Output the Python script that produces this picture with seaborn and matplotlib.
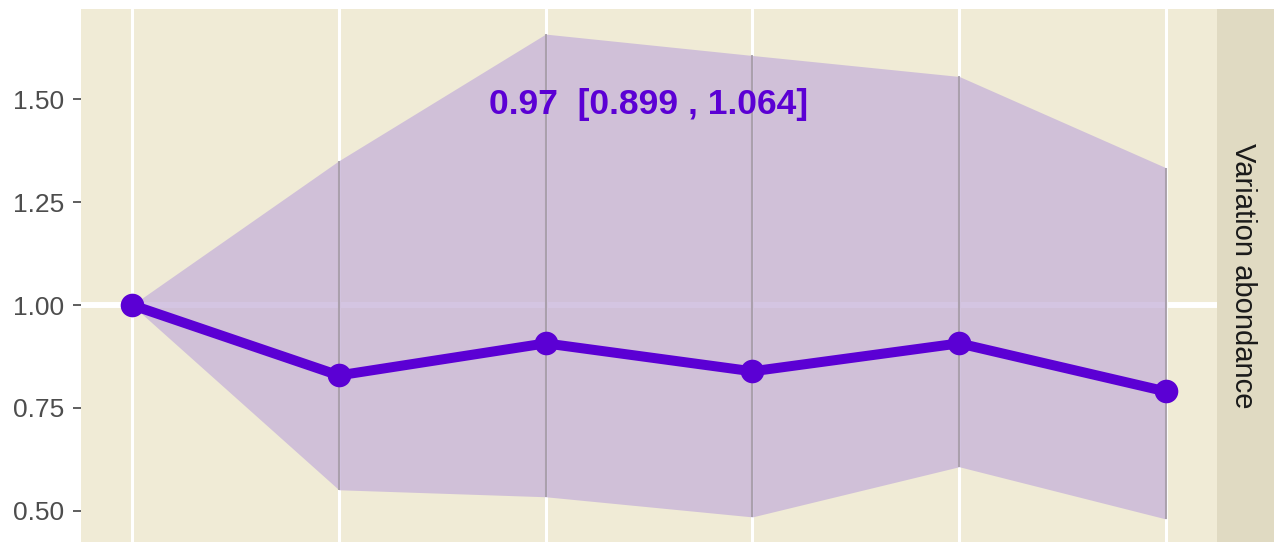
import seaborn as sns
import matplotlib.pyplot as plt
import pandas as pd
import numpy as np

# data
steps = [1, 2, 3, 4, 5, 6]
variation = [1.00, 0.829, 0.907, 0.839, 0.907, 0.790]
upper = [1.00, 1.351, 1.659, 1.607, 1.556, 1.334]
lower = [1.00, 0.551, 0.534, 0.485, 0.607, 0.480]
label = "0.97  [0.899 , 1.064]"
strip_label = "Variation abondance"
yticks = [0.50, 0.75, 1.00, 1.25, 1.50]

df = pd.DataFrame({"step": steps, "variation": variation,
                   "upper": upper, "lower": lower})

sns.set_theme(style="white")
plt.rcParams['font.family'] = ['Liberation Sans', 'DejaVu Sans']

W, H = 1274, 542
fig = plt.figure(figsize=(W / 100, H / 100), dpi=100)
ax = fig.add_axes([81 / W, 0, (1217 - 81) / W, 1 - 9 / H])
strip = fig.add_axes([1217 / W, 0, (W - 1217) / W, 1 - 9 / H])

ax.set_facecolor("#F0EBD6")
for s in ax.spines.values():
    s.set_visible(False)

# vertical major grid
for x in steps:
    ax.axvline(x, color="white", lw=2.2, zorder=0)
ax.axhline(1.0, color="white", lw=4.3, zorder=0.5)

ax.fill_between(df["step"], df["lower"], df["upper"], color="#C6B2D9",
                alpha=0.75, lw=0, zorder=1)
ax.vlines(df["step"][1:], df["lower"][1:], df["upper"][1:],
          color="#A39AA3", lw=1.5, alpha=0.85, zorder=1.5)

sns.lineplot(data=df, x="step", y="variation", ax=ax, color="#5B00D4",
             lw=7.2, marker="o", markersize=17, markeredgewidth=0, zorder=3)

ax.text(3.5, 1.488, label, color="#5B00D4", fontsize=25.5,
        fontweight="bold", ha="center", va="center", zorder=4)

ax.set_xlim(0.753, 6.247)
ax.set_ylim(0.424, 1.72)
ax.set_xticks(steps)
ax.set_xticklabels([])
ax.tick_params(axis="x", length=0)
ax.set_yticks(yticks)
ax.set_yticklabels([f"{v:.2f}" for v in yticks])
ax.tick_params(axis="y", left=True, length=5.8, width=1.1, color="#333333",
               labelsize=19, labelcolor="#4D4D4D", pad=6)
ax.set_xlabel("")
ax.set_ylabel("")

strip.set_facecolor("#E0DAC2")
for s in strip.spines.values():
    s.set_visible(False)
strip.set_xticks([])
strip.set_yticks([])
strip.text(0.46, 0.5, strip_label, rotation=-90, ha="center", va="center",
           fontsize=21, color="#1A1A1A", transform=strip.transAxes)

fig.savefig("out.png", dpi=100, facecolor="white")
